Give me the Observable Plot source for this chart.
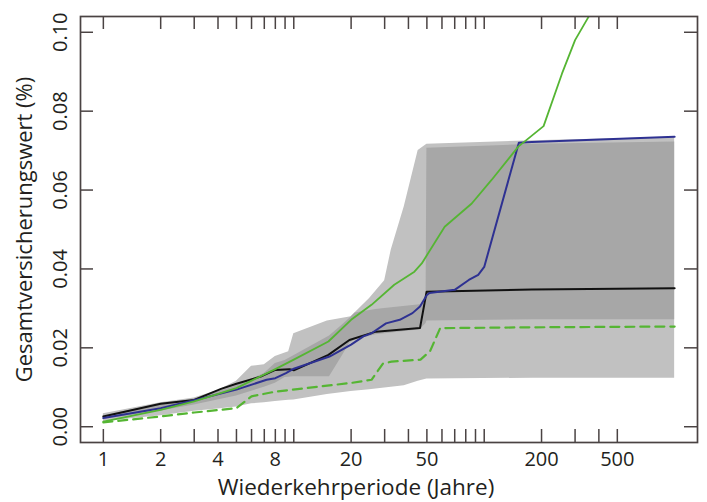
<!DOCTYPE html>
<html><head><meta charset="utf-8">
<script src="https://cdn.jsdelivr.net/npm/d3@7"></script>
<script src="https://cdn.jsdelivr.net/npm/@observablehq/plot@0.6"></script>
<style>html,body{margin:0;padding:0;background:#fff}</style>
</head><body><div id="chart"></div>
<script>
// Return periods (years) and values (%)
const blackX = [1, 2, 3, 4.15, 5, 6.7, 8, 9.5, 10, 15.2, 19.6, 27, 46, 49.8, 178, 1000];
const blackY = [0.0026, 0.0058, 0.0068, 0.0096, 0.0109, 0.0127, 0.0144, 0.0146, 0.0143, 0.0182, 0.0220, 0.0241, 0.0250, 0.0342, 0.0348, 0.0351];

const blueX = [1, 2, 3, 5, 7.2, 8, 9.1, 10, 15.4, 20, 23.2, 25.6, 30.5, 36, 42, 46, 50, 51.6, 70, 83, 93, 100, 152, 178, 1000];
const blueY = [0.0022, 0.0047, 0.0067, 0.0094, 0.0119, 0.0123, 0.0136, 0.0147, 0.0178, 0.0208, 0.0229, 0.0237, 0.0262, 0.0271, 0.0288, 0.0305, 0.0334, 0.0339, 0.0347, 0.0372, 0.0385, 0.0405, 0.0720, 0.0722, 0.0735];

const greenX = [1, 2, 3, 5, 8, 10, 15.2, 20, 25.6, 33.7, 43, 47, 62, 86, 109, 151, 205, 256, 300, 353, 420];
const greenY = [0.0013, 0.0043, 0.0064, 0.0098, 0.0146, 0.0170, 0.0216, 0.0271, 0.0309, 0.0360, 0.0393, 0.0414, 0.0507, 0.0566, 0.0625, 0.0710, 0.0762, 0.0895, 0.0980, 0.1039, 0.116];

const dashX = [1, 2, 3, 5, 6, 8, 20, 25.6, 29.4, 32.6, 46.3, 52, 58.7, 178, 1000];
const dashY = [0.0011, 0.0026, 0.0036, 0.0047, 0.0077, 0.0089, 0.0111, 0.0119, 0.0160, 0.0165, 0.0170, 0.0192, 0.0250, 0.0252, 0.0254];

const outerX = [1, 2, 3, 4, 5, 6, 7, 8, 9.4, 10, 15, 20, 25, 30, 32.5, 38, 45, 50, 180, 1000];
const outerLo = [0.0013, 0.0028, 0.0039, 0.0045, 0.0050, 0.0058, 0.0061, 0.0064, 0.0067, 0.0068, 0.0082, 0.0089, 0.0094, 0.0098, 0.0100, 0.0104, 0.0115, 0.0121, 0.0123, 0.0123];
const outerHi = [0.0033, 0.0061, 0.0073, 0.0092, 0.0115, 0.0153, 0.0157, 0.0178, 0.0190, 0.0236, 0.0268, 0.0279, 0.0325, 0.0370, 0.0448, 0.0557, 0.0700, 0.0716, 0.0725, 0.0734];

const innerX = [1, 2, 3, 5, 7, 8, 9, 10, 15.4, 18, 19.7, 21, 27, 30, 46, 49.5, 50, 180, 1000];
const innerLo = [0.0018, 0.0040, 0.0055, 0.0078, 0.0100, 0.0110, 0.0125, 0.0127, 0.0127, 0.0180, 0.0212, 0.0220, 0.0233, 0.0236, 0.0246, 0.0262, 0.0268, 0.0271, 0.0271];
const innerHi = [0.0028, 0.0058, 0.0070, 0.0103, 0.0135, 0.0160, 0.0168, 0.0180, 0.0230, 0.0258, 0.0275, 0.0288, 0.0297, 0.0300, 0.0309, 0.0312, 0.0706, 0.0716, 0.0722];

const xTicks = [1, 2, 3, 4, 5, 6, 7, 8, 9, 10, 20, 30, 40, 50, 60, 70, 80, 90, 100, 200, 300, 400, 500];
const xTickLabels = [1, 2, 4, 8, 20, 50, 200, 500];
const yTicks = [0, 0.02, 0.04, 0.06, 0.08, 0.10];
const xTitle = "Wiederkehrperiode (Jahre)";
const yTitle = "Gesamtversicherungswert (%)";

const pts = (xs, ys) => xs.map((x, i) => ({x, y: ys[i]}));
const band = (xs, lo, hi) => xs.map((x, i) => ({x, lo: lo[i], hi: hi[i]}));

const axisColor = "#4a4343";
const textColor = "#231f20";
const frameH = 502 - 16 - 60;
const frameW = 707 - 80 - 10;
const tickLen = 13;

const chart = Plot.plot({
  width: 707,
  height: 502,
  marginLeft: 80,
  marginRight: 10,
  marginTop: 16,
  marginBottom: 60,
  style: {fontFamily: "'Open Sans', sans-serif", background: "#fff", color: textColor},
  x: {type: "log", domain: [Math.pow(10, -0.12), Math.pow(10, 3.12)], axis: null},
  y: {domain: [-0.004, 0.104], axis: null},
  marks: [
    Plot.areaY(band(outerX, outerLo, outerHi), {x: "x", y1: "lo", y2: "hi", fill: "#c1c1c1"}),
    Plot.areaY(band(innerX, innerLo, innerHi), {x: "x", y1: "lo", y2: "hi", fill: "#a7a7a7"}),
    Plot.line(pts(dashX, dashY), {x: "x", y: "y", stroke: "#55b533", strokeWidth: 2.2, strokeDasharray: "9,6"}),
    Plot.line(pts(blackX, blackY), {x: "x", y: "y", stroke: "#111111", strokeWidth: 2}),
    Plot.line(pts(blueX, blueY), {x: "x", y: "y", stroke: "#2e3192", strokeWidth: 2}),
    Plot.line(pts(greenX, greenY), {x: "x", y: "y", stroke: "#55b533", strokeWidth: 1.8, clip: true}),
    Plot.ruleX(xTicks, {x: d => d, insetTop: frameH - tickLen, stroke: axisColor, strokeWidth: 1.5}),
    Plot.ruleX(xTicks, {x: d => d, insetBottom: frameH - tickLen, stroke: axisColor, strokeWidth: 1.5}),
    Plot.ruleY(yTicks, {y: d => d, insetRight: frameW - tickLen, stroke: axisColor, strokeWidth: 1.5}),
    Plot.ruleY(yTicks, {y: d => d, insetLeft: frameW - tickLen, stroke: axisColor, strokeWidth: 1.5}),
    Plot.frame({stroke: axisColor, strokeWidth: 1.7}),
    Plot.text(xTickLabels, {x: d => d, text: d => String(d), frameAnchor: "bottom", dy: 9, lineAnchor: "top", textAnchor: "middle", fontSize: 20, fill: textColor}),
    Plot.text(yTicks, {y: d => d, text: d => d3.format(".2f")(d), frameAnchor: "left", dx: -20, rotate: -90, textAnchor: "middle", lineAnchor: "middle", fontSize: 20, fill: textColor}),
    Plot.text([xTitle], {text: d => d, frameAnchor: "bottom", dx: -33, dy: 37, lineAnchor: "top", textAnchor: "middle", fontSize: 22.5, fill: textColor}),
    Plot.text([yTitle], {text: d => d, frameAnchor: "left", dx: -56, rotate: -90, textAnchor: "middle", lineAnchor: "middle", fontSize: 22, fill: textColor})
  ]
});
document.getElementById("chart").appendChild(chart);
</script>
</body></html>
